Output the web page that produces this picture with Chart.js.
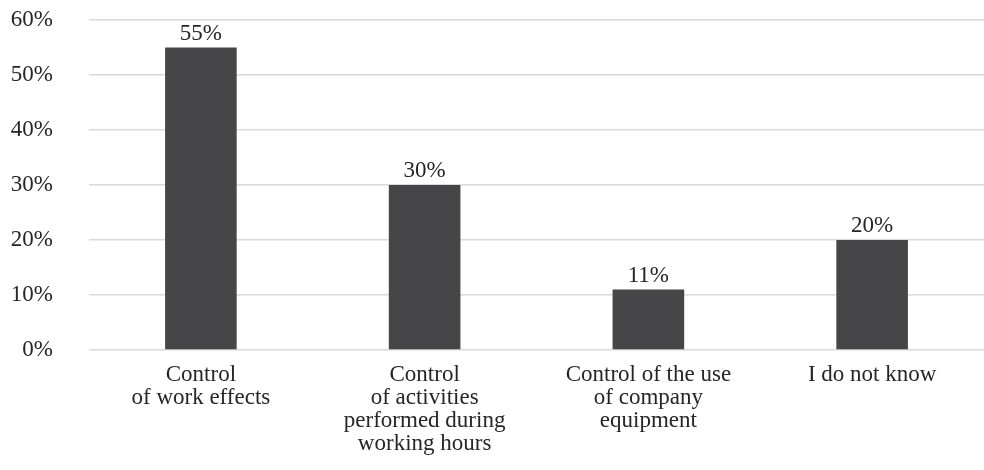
<!DOCTYPE html>
<html>
<head>
<meta charset="utf-8">
<script src="https://cdn.jsdelivr.net/npm/chart.js@4"></script>
<style>
  html, body { margin: 0; padding: 0; background: #fff; }
  #wrap { width: 984px; height: 470px; }
</style>
</head>
<body>
<div id="wrap"><canvas id="chart"></canvas></div>
<script>
const categories = [
  ["Control", "of work effects"],
  ["Control", "of activities", "performed during", "working hours"],
  ["Control of the use", "of company", "equipment"],
  ["I do not know"],
];
const shares = [55, 30, 11, 20];
const yTicks = [0, 10, 20, 30, 40, 50, 60];

const FONT = "'Liberation Serif', 'Times New Roman', serif";
const TEXT = "#262626";

// draws the "55%" style labels above each bar
const barLabels = {
  id: "barLabels",
  afterDatasetsDraw(chart) {
    const ctx = chart.ctx;
    const meta = chart.getDatasetMeta(0);
    ctx.save();
    ctx.font = "23px " + FONT;
    ctx.fillStyle = TEXT;
    ctx.textAlign = "center";
    ctx.textBaseline = "alphabetic";
    meta.data.forEach((bar, i) => {
      ctx.fillText(shares[i] + "%", bar.x, bar.y - 8);
    });
    ctx.restore();
  },
};

new Chart(document.getElementById("chart"), {
  type: "bar",
  data: {
    labels: categories,
    datasets: [{
      data: shares,
      backgroundColor: "#464648",
      barPercentage: 0.32,
      categoryPercentage: 1,
    }],
  },
  options: {
    responsive: true,
    maintainAspectRatio: false,
    animation: false,
    layout: { padding: { top: 20, right: 0, bottom: 0, left: 0 } },
    plugins: { legend: { display: false }, tooltip: { enabled: false } },
    scales: {
      x: {
        grid: { display: false },
        border: { display: false },
        ticks: {
          color: TEXT,
          font: { family: FONT, size: 23, lineHeight: 1.0 },
          maxRotation: 0,
          autoSkip: false,
          padding: 5,
        },
        afterFit: (axis) => { axis.height = 120; axis.paddingLeft = 0; axis.paddingRight = 0; },
      },
      y: {
        min: 0,
        max: 60,
        afterBuildTicks: (axis) => { axis.ticks = yTicks.map((v) => ({ value: v })); },
        grid: { color: "#d9d9d9", lineWidth: 1.5, drawTicks: false },
        border: { display: false },
        ticks: {
          color: TEXT,
          font: { family: FONT, size: 23 },
          padding: 36,
          callback: (v) => v + "%",
        },
        afterFit: (axis) => { axis.width = 89; axis.paddingTop = 0; axis.paddingBottom = 0; },
      },
    },
  },
  plugins: [barLabels],
});
</script>
</body>
</html>
